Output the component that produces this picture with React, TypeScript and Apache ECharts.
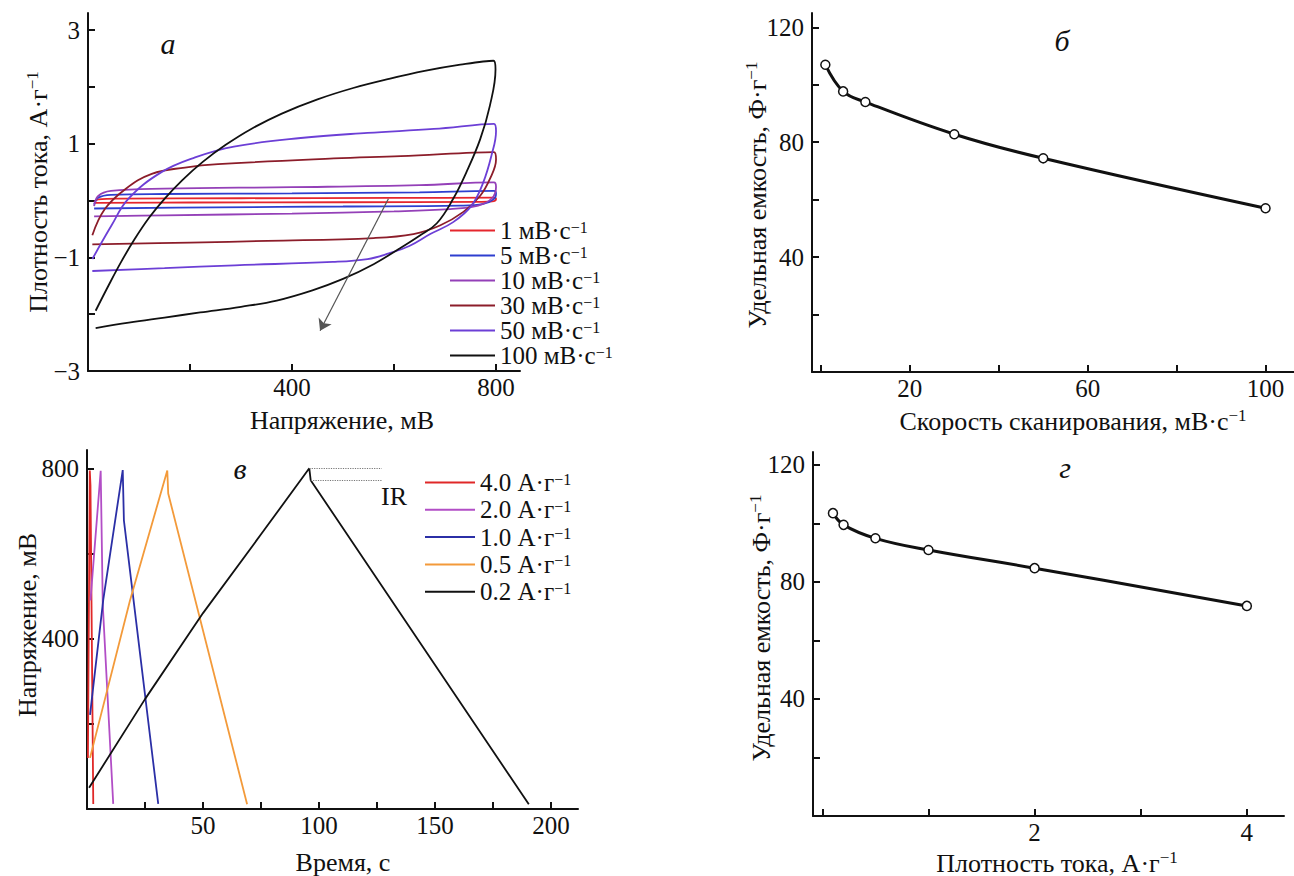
import React, { useEffect, useRef } from 'react';
import * as echarts from 'echarts';

const FONT = '"Liberation Serif", "Times New Roman", serif';
const INK = '#111111';

// ---- Panel а: cyclic voltammograms [mV, A/g] ----
const cvNames = ['1 мВ·с', '5 мВ·с', '10 мВ·с', '30 мВ·с', '50 мВ·с', '100 мВ·с'];
const cvColors = ['#e5262d', '#2e3fcf', '#9440b8', '#8c1d2a', '#6c3fd6', '#111111'];
const cv1 = [[12, -0.03], [20, 0.02], [60, 0.035], [300, 0.04], [600, 0.045], [795, 0.05], [800, 0.03], [796, -0.01], [770, -0.025], [500, -0.03], [200, -0.035], [12, -0.04]];
const cv5 = [[12, -0.07], [20, 0.05], [45, 0.1], [150, 0.115], [400, 0.125], [650, 0.145], [796, 0.17], [800, 0.12], [795, 0.02], [775, -0.06], [730, -0.09], [500, -0.105], [250, -0.12], [12, -0.14]];
const cv10 = [[12, -0.1], [20, 0.08], [45, 0.17], [150, 0.21], [400, 0.235], [650, 0.27], [796, 0.32], [800, 0.24], [792, 0.04], [765, -0.09], [710, -0.15], [600, -0.19], [400, -0.23], [150, -0.26], [12, -0.28]];
const cv30 = [[8.5, -0.61], [33, -0.15], [73, 0.2], [125, 0.47], [190, 0.58], [255, 0.64], [482, 0.74], [613, 0.78], [796, 0.85], [800, 0.72], [788, 0.38], [769, 0.085], [736, -0.2], [690, -0.44], [638, -0.59], [560, -0.66], [352, -0.71], [200, -0.74], [8.5, -0.77]];
const cv50 = [[8.5, -1.03], [46, -0.44], [79, 0.03], [144, 0.5], [210, 0.76], [286, 0.95], [417, 1.1], [548, 1.19], [678, 1.26], [796, 1.35], [800, 1.22], [791, 0.79], [775, 0.32], [752, -0.09], [716, -0.38], [671, -0.59], [630, -0.8], [590, -0.93], [548, -1.03], [480, -1.08], [288, -1.14], [150, -1.19], [8.5, -1.24]];
const cv100 = [
  [15, -1.94], [40, -1.5], [65, -1.08], [90, -0.7], [120, -0.3], [150, 0.03], [185, 0.36], [225, 0.68], [270, 0.98],
  [320, 1.26], [380, 1.53], [450, 1.78], [520, 1.98], [590, 2.14], [660, 2.28], [730, 2.39], [795, 2.46],
  [799, 2.31], [788, 1.67], [769, 1.08], [742, 0.5], [716, 0.03], [684, -0.4], [650, -0.62], [610, -0.85],
  [560, -1.12], [500, -1.38], [440, -1.58], [370, -1.76], [300, -1.87], [220, -1.97], [150, -2.06], [80, -2.15], [15, -2.245],
];
const cvData = [cv1, cv5, cv10, cv30, cv50, cv100];
const cvArrow = [[589, 0.03], [455, -2.29]];

// ---- Panel б: capacitance vs scan rate ----
const scanRates = [1, 5, 10, 30, 50, 100];
const capacitanceCV = [107, 97.7, 94, 82.8, 74.4, 57];

// ---- Panel в: charge/discharge curves [s, mV] ----
const gcdNames = ['4.0 А·г', '2.0 А·г', '1.0 А·г', '0.5 А·г', '0.2 А·г'];
const gcdColors = ['#e02828', '#b24ec6', '#2b2fa6', '#f39a3a', '#111111'];
const gcd40 = [[0.4, 120], [1.2, 795], [1.5, 760], [2.7, 12]];
const gcd20 = [[1.5, 490], [5.9, 794], [6.8, 479], [11.3, 12]];
const gcd10 = [[1.3, 221], [7.0, 491], [15.4, 796], [15.9, 678], [30.7, 12]];
const gcd05 = [[1.3, 120], [18.5, 489], [34.6, 795], [35.0, 741], [69.0, 11]];
const gcd02 = [[0.9, 50], [25, 258], [50, 460], [75, 645], [95.8, 800], [96.4, 772], [190.4, 11]];
const gcdData = [gcd40, gcd20, gcd10, gcd05, gcd02];
const irLevels = [[95.8, 800], [96.4, 772]];
const irEnd = 127;

// ---- Panel г: capacitance vs current density ----
const currentDensities = [0.1, 0.2, 0.5, 1, 2, 4];
const capacitanceGCD = [103.5, 99.5, 94.9, 90.9, 84.7, 71.8];

// ---- tick values ----
const aXTicks = [200, 400, 600, 800];
const aXLabels = [400, 800];
const aYTicks = [-3, -2, -1, 0, 1, 2, 3];
const aYLabels = [-3, -1, 1, 3];
const bXTicks = [0, 20, 40, 60, 80, 100];
const bXLabels = [20, 60, 100];
const capTicks = [20, 40, 60, 80, 100, 120];
const capLabels = [40, 80, 120];
const cXTicks = [25, 50, 75, 100, 125, 150, 175, 200];
const cXLabels = [50, 100, 150, 200];
const cYTicks = [200, 400, 600, 800];
const cYLabels = [400, 800];
const dXTicks = [0, 1, 2, 3, 4];
const dXLabels = [2, 4];

const fmt = (v: number) => (v < 0 ? '\u2212' + Math.abs(v) : String(v));

function axis(gridIndex: number, min: number, max: number, ticks: number[], labels: number[], isX: boolean) {
  return {
    type: 'value',
    gridIndex,
    min,
    max,
    axisLine: { show: true, onZero: false, lineStyle: { color: INK, width: 2 } },
    axisTick: { show: true, inside: true, length: 7, lineStyle: { color: INK, width: 2 }, customValues: ticks },
    axisLabel: {
      show: true,
      margin: isX ? 4 : 8,
      fontFamily: FONT,
      fontSize: 25,
      lineHeight: 25,
      color: INK,
      customValues: labels,
      formatter: fmt,
    },
    splitLine: { show: false },
  };
}

const richTitle = {
  t: { fontFamily: FONT, fontSize: 26, lineHeight: 28, color: INK },
  s: { fontFamily: FONT, fontSize: 17, verticalAlign: 'top', color: INK },
};

function title(x: number, y: number, main: string, sup: string, rotate: boolean) {
  return {
    type: 'text',
    x,
    y,
    rotation: rotate ? Math.PI / 2 : 0,
    silent: true,
    style: {
      text: sup ? `{t|${main}}{s|${sup}}` : `{t|${main}}`,
      rich: richTitle,
      align: 'center',
      verticalAlign: 'middle',
      fill: INK,
    },
  };
}

function letter(x: number, y: number, t: string) {
  return {
    type: 'text',
    x,
    y,
    silent: true,
    style: { text: t, fontFamily: FONT, fontSize: 30, fontStyle: 'italic', fill: INK, align: 'center', verticalAlign: 'middle' },
  };
}

const legendRich = {
  t: { fontFamily: FONT, fontSize: 25, lineHeight: 23, color: INK },
  s: { fontFamily: FONT, fontSize: 16, verticalAlign: 'top', color: INK },
};

function buildOption() {
  const series: any[] = [];
  cvData.forEach((d, i) => {
    const s: any = {
      name: cvNames[i],
      type: 'line',
      xAxisIndex: 0,
      yAxisIndex: 0,
      data: d,
      symbol: 'none',
      showSymbol: false,
      smooth: 0.4,
      lineStyle: { color: cvColors[i], width: 1.8 },
      itemStyle: { color: cvColors[i] },
      z: 2,
    };
    if (i === cvData.length - 1) {
      s.markLine = {
        silent: true,
        symbol: ['none', 'arrow'],
        symbolSize: 11,
        label: { show: false },
        lineStyle: { color: '#555', width: 1.2, type: 'solid' },
        data: [[{ coord: cvArrow[0] }, { coord: cvArrow[1] }]],
      };
    }
    series.push(s);
  });
  gcdData.forEach((d, i) => {
    const s: any = {
      name: gcdNames[i],
      type: 'line',
      xAxisIndex: 2,
      yAxisIndex: 2,
      data: d,
      symbol: 'none',
      showSymbol: false,
      lineStyle: { color: gcdColors[i], width: 1.8 },
      itemStyle: { color: gcdColors[i] },
    };
    if (i === gcdData.length - 1) {
      s.markLine = {
        silent: true,
        symbol: ['none', 'none'],
        label: { show: false },
        lineStyle: { color: '#777', width: 1.2, type: 'dotted' },
        data: irLevels.map((p) => [{ coord: p }, { coord: [irEnd, p[1]] }]),
      };
    }
    series.push(s);
  });
  const markerLine = (xi: number, xs: number[], ys: number[]) => ({
    type: 'line',
    xAxisIndex: xi,
    yAxisIndex: xi,
    data: xs.map((x, i) => [x, ys[i]]),
    smooth: 0.4,
    symbol: 'circle',
    symbolSize: 9,
    showSymbol: true,
    lineStyle: { color: INK, width: 3 },
    itemStyle: { color: '#ffffff', borderColor: INK, borderWidth: 1.5 },
    z: 3,
  });
  series.push(markerLine(1, scanRates, capacitanceCV));
  series.push(markerLine(3, currentDensities, capacitanceGCD));

  const legendCommon = {
    orient: 'vertical',
    padding: 0,
    icon: 'rect',
    itemHeight: 2,
    selectedMode: false,
    formatter: (n: string) => `{t|${n}}{s|\u22121}`,
    textStyle: { fontFamily: FONT, fontSize: 25, color: INK, rich: legendRich },
  };

  return {
    animation: false,
    backgroundColor: '#ffffff',
    grid: [
      { left: 88, top: 13, width: 432, height: 358, outerBoundsMode: 'none' },
      { left: 812, top: 13, width: 482, height: 359, outerBoundsMode: 'none' },
      { left: 87, top: 450, width: 491, height: 359, outerBoundsMode: 'none' },
      { left: 813, top: 452, width: 471, height: 364, outerBoundsMode: 'none' },
    ],
    xAxis: [
      axis(0, 0, 847, aXTicks, aXLabels, true),
      axis(1, -2, 106.4, bXTicks, bXLabels, true),
      axis(2, 0, 211.6, cXTicks, cXLabels, true),
      axis(3, -0.088, 4.35, dXTicks, dXLabels, true),
    ],
    yAxis: [
      axis(0, -3, 3.3, aYTicks, aYLabels, false),
      axis(1, 0, 125, capTicks, capLabels, false),
      axis(2, 0, 843, cYTicks, cYLabels, false),
      axis(3, 0, 124.4, capTicks, capLabels, false),
    ],
    legend: [
      { ...legendCommon, data: cvNames, left: 450, top: 218, itemWidth: 45, itemGap: 0 },
      { ...legendCommon, data: gcdNames, left: 425, top: 470, itemWidth: 50, itemGap: 2.3 },
    ],
    graphic: [
      title(342, 420, 'Напряжение, мВ', '', false),
      title(38, 192, 'Плотность тока, А·г', '\u22121', true),
      title(1073, 421, 'Скорость сканирования, мВ·с', '\u22121', false),
      title(757, 195, 'Удельная емкость, Ф·г', '\u22121', true),
      title(343, 862, 'Время, с', '', false),
      title(27, 625, 'Напряжение, мВ', '', true),
      title(1057, 863, 'Плотность тока, А·г', '\u22121', false),
      title(761, 628, 'Удельная емкость, Ф·г', '\u22121', true),
      letter(168, 43, 'а'),
      letter(1062, 40, 'б'),
      letter(240, 468, 'в'),
      letter(1065, 467, 'г'),
      {
        type: 'text',
        x: 394,
        y: 496,
        silent: true,
        style: { text: 'IR', fontFamily: FONT, fontSize: 26, fill: INK, align: 'center', verticalAlign: 'middle' },
      },
    ],
    series,
  };
}

export default function App() {
  const ref = useRef<HTMLDivElement>(null);
  useEffect(() => {
    if (!ref.current) return;
    const chart = echarts.init(ref.current, null, { renderer: 'svg' });
    chart.setOption(buildOption() as any);
    return () => chart.dispose();
  }, []);
  return (
    <div
      ref={ref}
      style={{ position: 'absolute', left: 0, top: 0, width: 1294, height: 876, background: '#ffffff' }}
    />
  );
}
